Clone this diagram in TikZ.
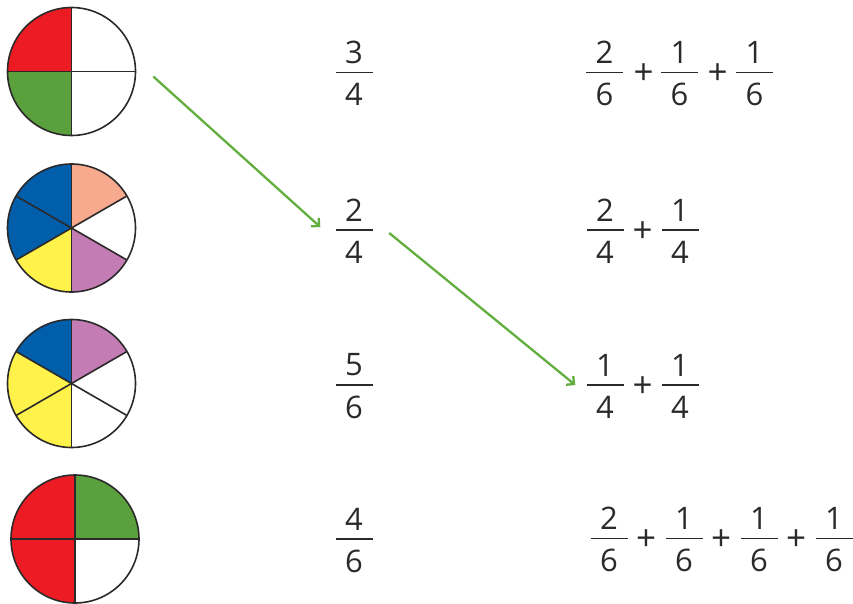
\documentclass[tikz,border=0pt]{standalone}
\usepackage{fontspec}
\setmainfont{Open Sans}
\usepackage{tikz}
\usetikzlibrary{arrows.meta,positioning}
\usepackage{xcolor}
\definecolor{ink}{RGB}{43,41,42}
\definecolor{piered}{RGB}{237,28,36}
\definecolor{piegreen}{RGB}{90,160,60}
\definecolor{pieblue}{RGB}{0,94,170}
\definecolor{pieyellow}{RGB}{255,242,75}
\definecolor{piepink}{RGB}{248,170,142}
\definecolor{piepurple}{RGB}{196,124,180}
\definecolor{arrowgreen}{RGB}{98,174,62}
\newcommand{\rad}{64}
% a pie: name, centre, list of start/end/colour
\newcommand{\pie}[3]{%
  \foreach \a/\b/\c in {#3}
    \fill[\c] (#2) -- ++(\a:\rad) arc[start angle=\a,end angle=\b,radius=\rad] -- cycle;
  \foreach \a/\b/\c in {#3}
    \draw[spoke] (#2) -- ++(\a:\rad);
  \node[disc] (#1) at (#2) {};}
% a fraction: name, bar centre, numerator, denominator
\newcommand{\fr}[4]{%
  \node[fbar,label={[num]above:#3},label={[den]below:#4}] (#1) at (#2) {};}
\tikzset{
  spoke/.style={draw=ink,line width=1.6pt},
  disc/.style={circle,draw=ink,line width=1.6pt,minimum size=128pt,inner sep=0pt},
  fbar/.style={fill=ink,minimum width=37pt,minimum height=1.8pt,inner sep=0pt},
  num/.style={inner sep=0pt,text=ink,label distance=7.5pt},
  den/.style={inner sep=0pt,text=ink,label distance=9.5pt},
  op/.style={inner sep=0pt,text=ink,font=\fontsize{35}{40}\selectfont},
  link/.style={draw=arrowgreen,line width=2.3pt,
               -{Straight Barb[angle=90:8pt,line width=2.3pt]}},
}
\begin{document}
\begin{tikzpicture}[x=1pt,y=1pt,font=\fontsize{31}{36}\selectfont]
  \useasboundingbox (0,0) rectangle (853,-604);
  % the pies
  \pie{c1}{71.5,-71.5}{90/180/piered,180/270/piegreen,270/360/white,0/90/white}
  \pie{c2}{71.5,-228}{30/90/piepink,-30/30/white,-90/-30/piepurple,
    -150/-90/pieyellow,150/210/pieblue,90/150/pieblue}
  \pie{c3}{71.5,-383.5}{30/90/piepurple,-30/30/white,-90/-30/white,
    -150/-90/pieyellow,150/210/pieyellow,90/150/pieblue}
  \pie{c4}{75,-539}{0/90/piegreen,90/180/piered,180/270/piered,270/360/white}
  % the single fractions
  \fr{m1}{354,-72.5}{3}{4}
  \fr{m2}{354,-230}{2}{4}
  \fr{m3}{354,-385}{5}{6}
  \fr{m4}{354,-539}{4}{6}
  % the sums
  \fr{s1a}{604.5,-72.5}{2}{6}
  \node[op] (p1a) at (643.5,-74.5) {+};
  \fr{s1b}{679.5,-72.5}{1}{6}
  \node[op] (p1b) at (717.5,-74.5) {+};
  \fr{s1c}{754.5,-72.5}{1}{6}
  \fr{s2a}{605,-230}{2}{4}
  \node[op] (p2a) at (642.5,-232) {+};
  \fr{s2b}{680,-230}{1}{4}
  \fr{s3a}{605,-385}{1}{4}
  \node[op] (p3a) at (642.5,-387) {+};
  \fr{s3b}{680,-385}{1}{4}
  \fr{s4a}{609,-538.5}{2}{6}
  \node[op] (p4a) at (646,-540.5) {+};
  \fr{s4b}{684,-538.5}{1}{6}
  \node[op] (p4b) at (721,-540.5) {+};
  \fr{s4c}{759,-538.5}{1}{6}
  \node[op] (p4c) at (796,-540.5) {+};
  \fr{s4d}{834,-538.5}{1}{6}
  % the arrows
  \draw[link] ([shift={(17,-5)}]c1.east) -- ([shift={(-15,3)}]m2.west);
  \draw[link] ([shift={(16.5,-3)}]m2.east) -- ([shift={(-11,0)}]s3a.west);
\end{tikzpicture}
\end{document}
